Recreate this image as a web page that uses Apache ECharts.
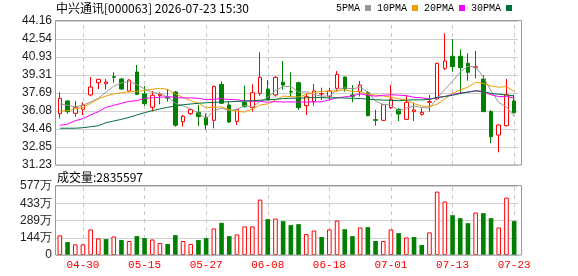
<!DOCTYPE html>
<html>
<head>
<meta charset="utf-8">
<script src="https://cdn.jsdelivr.net/npm/echarts@6/dist/echarts.min.js"></script>
<style>
  html, body { margin: 0; padding: 0; background: #fff; }
  #kline { width: 578px; height: 276px; }
</style>
</head>
<body>
<div id="kline"></div>
<script>
// trading days shown (2026)
const dates = [
  "04-27", "04-28", "04-29", "04-30", "05-06", "05-07", "05-08", "05-11", "05-12", "05-13",
  "05-14", "05-15", "05-18", "05-19", "05-20", "05-21", "05-22", "05-25", "05-26", "05-27",
  "05-28", "05-29", "06-01", "06-02", "06-03", "06-04", "06-05", "06-08", "06-09", "06-10",
  "06-11", "06-12", "06-15", "06-16", "06-17", "06-18", "06-22", "06-23", "06-24", "06-25",
  "06-26", "06-29", "06-30", "07-01", "07-02", "07-03", "07-06", "07-07", "07-08", "07-09",
  "07-10", "07-13", "07-14", "07-15", "07-16", "07-17", "07-20", "07-21", "07-22", "07-23"
];
const labelDates = ["04-30", "05-15", "05-27", "06-08", "06-18", "07-01", "07-13", "07-23"];

const opens = [
  35.84, 36.98, 35.87, 36.23, 37.52, 38.62, 38.53, 39.16, 38.95, 37.87,
  39.58, 37.61, 36.41, 37.46, 37.30, 37.78, 35.12, 35.84, 35.96, 35.51,
  35.24, 38.47, 36.62, 35.15, 36.86, 36.38, 37.66, 38.05, 37.52, 38.66,
  37.84, 38.62, 36.56, 36.92, 37.60, 37.40, 38.11, 39.13, 37.52, 37.81,
  37.75, 35.30, 35.24, 36.38, 36.23, 35.33, 36.02, 35.78, 36.86, 37.16,
  39.91, 40.99, 40.99, 40.36, 40.00, 38.95, 36.02, 33.92, 34.76, 36.98
];
const closes = [
  37.22, 36.02, 36.38, 36.62, 38.23, 38.92, 38.68, 39.10, 38.05, 38.86,
  37.58, 36.74, 37.49, 37.58, 37.24, 34.80, 35.60, 36.20, 35.57, 34.82,
  38.29, 36.77, 35.09, 36.20, 36.47, 37.72, 39.10, 37.07, 39.10, 38.41,
  37.78, 36.38, 37.37, 37.88, 37.64, 37.88, 39.37, 38.05, 37.40, 38.41,
  35.66, 35.24, 36.65, 37.13, 35.81, 36.86, 36.17, 35.96, 36.92, 40.36,
  40.57, 40.06, 39.97, 39.55, 40.06, 36.02, 33.77, 34.82, 37.52, 35.93
];
const lows = [
  35.42, 35.84, 35.57, 35.72, 37.40, 38.05, 37.99, 38.62, 37.96, 37.75,
  37.52, 36.56, 36.05, 36.68, 36.92, 34.67, 34.67, 35.72, 34.73, 34.40,
  34.52, 36.75, 35.00, 34.82, 36.38, 36.02, 37.45, 37.05, 37.36, 37.97,
  37.36, 36.17, 35.72, 36.56, 37.07, 37.07, 37.81, 37.81, 36.86, 37.37,
  35.60, 34.76, 35.18, 36.26, 35.18, 35.27, 35.18, 35.66, 36.02, 37.07,
  39.76, 39.61, 37.60, 38.80, 39.01, 36.00, 33.18, 32.37, 34.70, 35.87
];
const highs = [
  37.75, 37.02, 36.98, 36.86, 39.13, 38.95, 38.95, 39.55, 39.07, 38.92,
  40.21, 38.32, 37.87, 37.75, 38.05, 37.88, 35.72, 36.26, 36.62, 35.87,
  38.35, 38.74, 36.95, 36.28, 38.35, 38.48, 41.35, 38.86, 39.22, 40.57,
  39.55, 38.71, 37.67, 38.50, 38.17, 38.17, 39.67, 39.16, 38.41, 38.77,
  37.87, 36.17, 36.71, 38.41, 36.32, 37.52, 36.86, 36.32, 37.52, 40.42,
  43.05, 42.54, 41.62, 41.26, 41.47, 39.31, 36.17, 34.88, 38.95, 37.52
];

const ma5 = [
  36.70, 36.60, 36.45, 36.60, 36.89, 37.23, 37.77, 38.31, 38.60, 38.72,
  38.45, 38.07, 37.74, 37.65, 37.33, 36.77, 36.54, 36.28, 35.88, 35.40,
  36.10, 36.33, 36.11, 36.23, 36.56, 36.45, 36.92, 37.31, 37.89, 38.28,
  38.29, 37.75, 37.81, 37.56, 37.41, 37.43, 38.03, 38.16, 38.07, 38.22,
  37.78, 36.95, 36.67, 36.62, 36.10, 36.34, 36.52, 36.39, 36.34, 37.25,
  38.00, 38.77, 39.58, 40.10, 40.04, 39.13, 37.87, 36.84, 36.44, 35.61
];
const ma10 = [
  36.08, 36.10, 36.26, 36.41, 36.77, 37.16, 37.43, 37.61, 37.72, 37.81,
  37.84, 37.92, 38.03, 38.12, 38.02, 37.61, 37.30, 37.01, 36.77, 36.36,
  36.43, 36.44, 36.20, 36.06, 35.98, 36.27, 36.62, 36.71, 37.06, 37.42,
  37.37, 37.33, 37.56, 37.73, 37.85, 37.86, 37.89, 37.99, 37.82, 37.82,
  37.60, 37.49, 37.42, 37.34, 37.16, 37.06, 36.74, 36.53, 36.48, 36.68,
  37.17, 37.65, 37.98, 38.22, 38.65, 38.56, 38.32, 38.21, 38.27, 37.83
];
const ma20 = [
  34.79, 34.91, 35.21, 35.39, 35.72, 36.02, 36.41, 36.59, 36.77, 36.95,
  37.00, 37.22, 37.27, 37.31, 37.36, 37.31, 37.25, 37.25, 37.22, 37.09,
  37.14, 37.18, 37.11, 37.09, 37.00, 36.94, 36.96, 36.86, 36.92, 36.89,
  36.90, 36.88, 36.88, 36.89, 36.91, 37.07, 37.26, 37.35, 37.44, 37.62,
  37.49, 37.41, 37.49, 37.54, 37.50, 37.46, 37.31, 37.26, 37.15, 37.25,
  37.39, 37.57, 37.70, 37.78, 37.90, 37.81, 37.53, 37.37, 37.38, 37.25
];
const ma30 = [
  34.53, 34.53, 34.53, 34.58, 34.67, 34.76, 35.03, 35.18, 35.33, 35.51,
  35.72, 35.93, 36.11, 36.26, 36.41, 36.53, 36.64, 36.71, 36.77, 36.82,
  36.85, 36.88, 36.91, 36.94, 36.97, 37.00, 37.05, 37.08, 37.12, 37.20,
  37.22, 37.23, 37.26, 37.30, 37.28, 37.25, 37.27, 37.24, 37.22, 37.20,
  37.14, 37.09, 37.06, 37.04, 37.00, 37.06, 37.08, 37.08, 37.12, 37.31,
  37.38, 37.49, 37.65, 37.77, 37.88, 37.83, 37.65, 37.58, 37.52, 37.44
];

// volume, in 万
const volumes = [
  164, 108, 89, 89, 214, 139, 133, 155, 125, 117,
  158, 141, 130, 100, 92, 166, 117, 92, 125, 141,
  222, 269, 158, 172, 239, 239, 463, 300, 305, 283,
  250, 258, 175, 205, 150, 214, 288, 216, 158, 230,
  233, 117, 117, 214, 183, 147, 150, 83, 189, 530,
  447, 333, 308, 266, 355, 350, 308, 230, 480, 283.56
];

const priceTicks = ["31.23", "32.85", "34.46", "36.08", "37.69", "39.31", "40.93", "42.54", "44.16"];
const volumeTicks = ["0", "144万", "289万", "433万", "577万"];

const UP = "#ff0000";
const DOWN = "#008000";
const priceMin = 31.23, priceMax = 44.16;
const priceStep = (priceMax - priceMin) / 8;
const volMax = 577, volStep = volMax / 4;

const chart = echarts.init(document.getElementById("kline"));

// dashed verticals at the labelled dates, kept under the marks
const splitMarks = {
  symbol: "none",
  silent: true,
  animation: false,
  z: 1,
  label: { show: false },
  lineStyle: { color: "#c8c8c8", type: [4, 4], width: 1 },
  data: labelDates.map(d => ({ xAxis: d }))
};

// volume colour follows close vs previous close
const volData = volumes.map((v, i) => {
  const prev = i > 0 ? closes[i - 1] : opens[i];
  const up = closes[i] >= prev;
  return {
    value: v,
    itemStyle: up
      ? { color: "#fff", borderColor: UP, borderWidth: 1 }
      : { color: DOWN, borderWidth: 0 }
  };
});

function maSeries(name, data, color) {
  return {
    name: name,
    type: "line",
    data: data,
    xAxisIndex: 0,
    yAxisIndex: 0,
    z: 3,
    showSymbol: false,
    symbol: "none",
    color: color,
    lineStyle: { width: 1, color: color }
  };
}

const option = {
  animation: false,
  backgroundColor: "#fff",
  title: [
    {
      text: "中兴通讯[000063] 2026-07-23 15:30",
      left: 56, top: 2, padding: 0,
      textStyle: { fontSize: 12, fontWeight: "normal", color: "#000", fontFamily: "Noto Sans CJK SC" }
    },
    {
      text: "成交量:2835597",
      left: 57, top: 171, padding: 0,
      textStyle: { fontSize: 12, fontWeight: "normal", color: "#000", fontFamily: "Noto Sans CJK SC" }
    }
  ],
  legend: {
    data: ["5PMA", "10PMA", "20PMA", "30PMA"],
    right: 66, top: 3, padding: 0,
    align: "right",
    icon: "rect",
    itemWidth: 6, itemHeight: 6, itemGap: 6,
    textStyle: { fontSize: 10, color: "#000", fontFamily: "Liberation Mono" }
  },
  graphic: [
    { type: "rect", silent: true, z: 10,
      shape: { x: 55.5, y: 20.5, width: 466, height: 144.5 },
      style: { fill: "none", stroke: "#999", lineWidth: 1 } },
    { type: "rect", silent: true, z: 10,
      shape: { x: 55.5, y: 185.5, width: 466, height: 69.5 },
      style: { fill: "none", stroke: "#999", lineWidth: 1 } }
  ],
  grid: [
    { left: 56, top: 21, width: 462, height: 144 },
    { left: 56, top: 186, width: 462, height: 69 }
  ],
  xAxis: [
    {
      type: "category", gridIndex: 0, data: dates, boundaryGap: true,
      axisLine: { show: false }, axisTick: { show: false },
      axisLabel: { show: false }, splitLine: { show: false }
    },
    {
      type: "category", gridIndex: 1, data: dates, boundaryGap: true,
      axisLine: { show: false }, axisTick: { show: false },
      splitLine: { show: false },
      axisLabel: {
        color: UP, fontSize: 11, fontFamily: "Liberation Mono", margin: 5,
        interval: (idx, val) => labelDates.indexOf(val) >= 0
      }
    }
  ],
  yAxis: [
    {
      type: "value", gridIndex: 0,
      min: priceMin, max: priceMin + priceStep * 8, interval: priceStep,
      axisLine: { show: false }, axisTick: { show: false },
      splitLine: { lineStyle: { color: "#d0d0d0", width: 1 } },
      axisLabel: {
        fontSize: 12, color: "#222", fontFamily: "Liberation Sans", margin: 4,
        formatter: v => priceTicks[Math.round((v - priceMin) / priceStep)] || ""
      }
    },
    {
      type: "value", gridIndex: 1,
      min: 0, max: volMax, interval: volStep,
      axisLine: { show: false }, axisTick: { show: false },
      splitLine: { lineStyle: { color: "#d0d0d0", width: 1 } },
      axisLabel: {
        fontSize: 12, color: "#222", fontFamily: "Liberation Sans", margin: 4,
        formatter: v => volumeTicks[Math.round(v / volStep)] || ""
      }
    }
  ],
  series: [
    {
      name: "K",
      type: "candlestick",
      xAxisIndex: 0, yAxisIndex: 0,
      z: 2,
      barWidth: 4,
      data: dates.map((d, i) => [opens[i], closes[i], lows[i], highs[i]]),
      itemStyle: {
        color: "#fff", color0: DOWN,
        borderColor: UP, borderColor0: DOWN,
        borderWidth: 1
      },
      markLine: splitMarks
    },
    maSeries("5PMA", ma5, "#999999"),
    maSeries("10PMA", ma10, "#f0a000"),
    maSeries("20PMA", ma20, "#ff00ff"),
    maSeries("30PMA", ma30, "#006f3c"),
    {
      name: "成交量",
      type: "bar",
      xAxisIndex: 1, yAxisIndex: 1,
      z: 2,
      barWidth: 4.6,
      data: volData,
      markLine: splitMarks
    }
  ]
};

chart.setOption(option);
</script>
</body>
</html>
